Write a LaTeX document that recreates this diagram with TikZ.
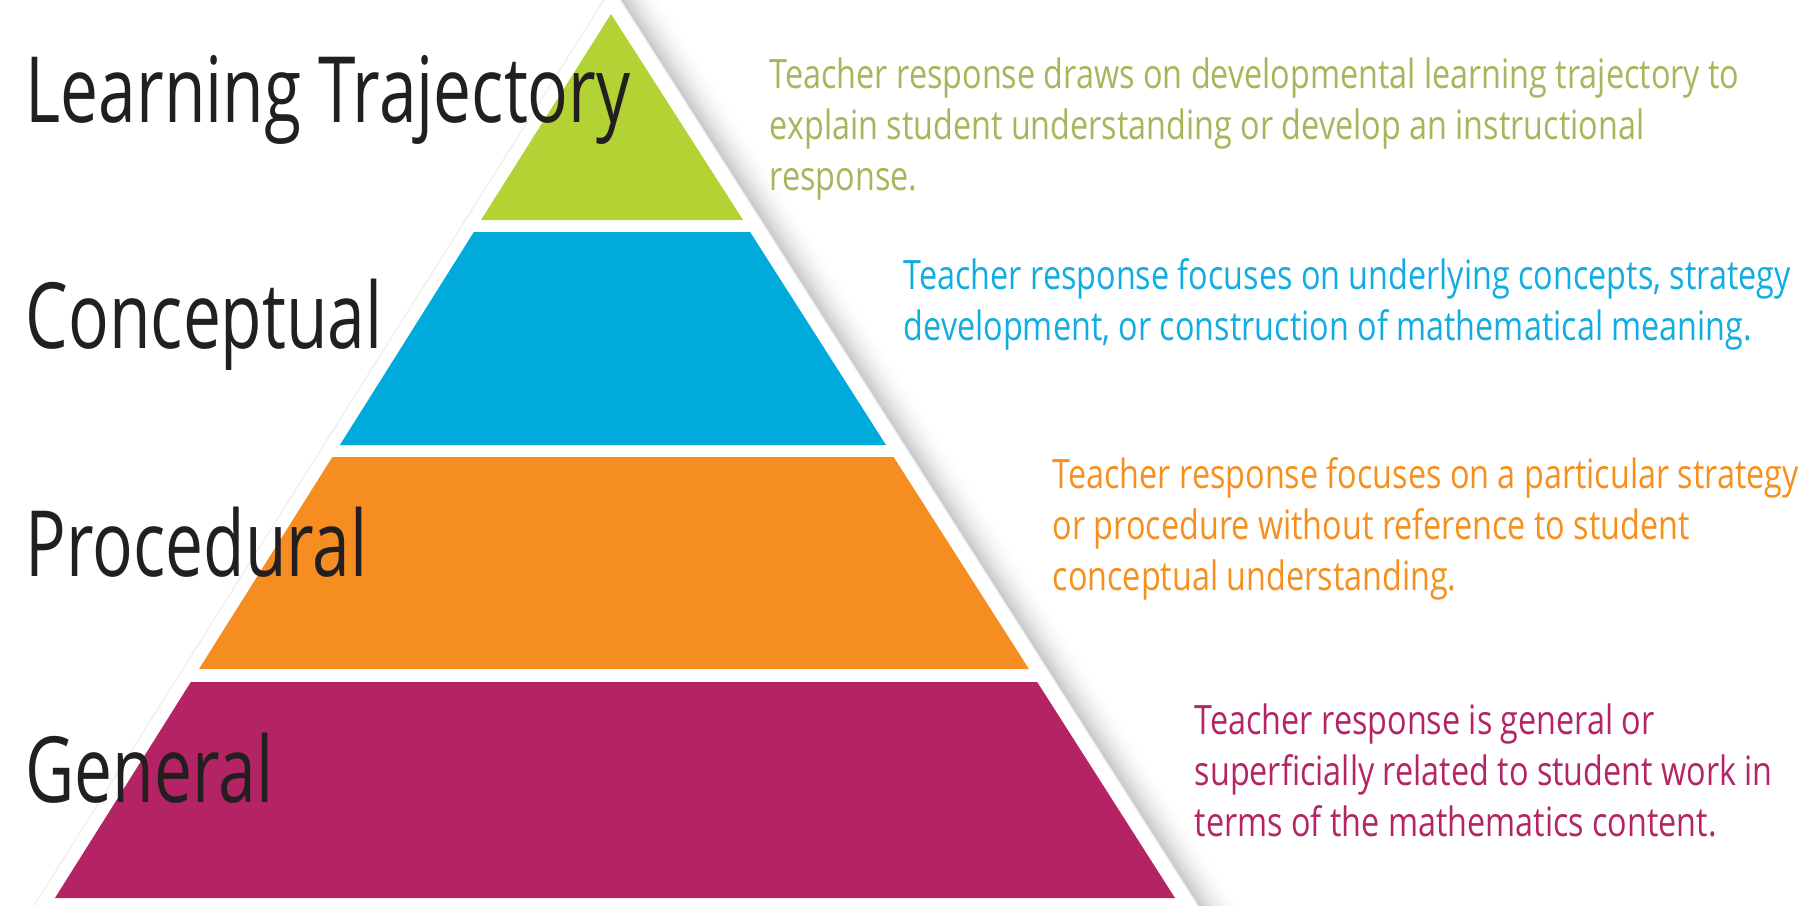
\documentclass[tikz,border=0pt]{standalone}
\usepackage{fontspec}
\newfontfamily\tierfont[FakeStretch=0.74]{Open Sans}
\newfontfamily\descfont[FakeStretch=0.80]{Open Sans}
\definecolor{labelblack}{HTML}{231F20}
\definecolor{limefill}{HTML}{B3D334}
\definecolor{limetext}{HTML}{A6B65A}
\definecolor{skyfill}{HTML}{00ABDC}
\definecolor{skytext}{HTML}{12ADE0}
\definecolor{orangefill}{HTML}{F68D21}
\definecolor{orangetext}{HTML}{F5901F}
\definecolor{berryfill}{HTML}{B42364}
\definecolor{berrytext}{HTML}{B42566}
\tikzset{
  tier/.style={anchor=base west, inner sep=0pt, text=labelblack,
    font=\tierfont\fontsize{26}{30}\selectfont},
  desc/.style={anchor=base west, inner sep=0pt, align=left,
    font=\descfont\fontsize{11.5}{14.5}\selectfont}
}

\begin{document}
\begin{tikzpicture}[x=0.01cm,y=-0.01cm]
\useasboundingbox (0,0) rectangle (1818,905);
\clip (0,0) rectangle (1818,905);
\fill[white] (0,0) rectangle (1818,905);
% soft shadow on the right of the pyramid
\foreach \s [evaluate=\s as \g using {24*(1-\s/44)^2}] in {42,40,...,2}
  \fill[black!\g, shift={(\s,0)}] (612,-13) -- (25,920) -- (1207,920) -- cycle;
\fill[white, draw=black!6] (612,-13) -- (25,920) -- (1207,920) -- cycle;
\fill[limefill] (611,14) -- (743,220) -- (481,220) -- cycle;
\foreach \t/\b/\c in {232/445/skyfill, 457/669/orangefill, 682/898/berryfill}
  \fill[\c] ({611-0.629*(\t-14)},\t) -- ({611+0.638*(\t-14)},\t)
    -- ({611+0.638*(\b-14)},\b) -- ({611-0.629*(\b-14)},\b) -- cycle;

\node[tier] (lt) at (25,122) {Learning Trajectory};
\node[tier] (conc) at (25,348) {Conceptual};
\node[tier] (proc) at (25,576) {Procedural};
\node[tier] (gen) at (25,802) {General};

% multi-line nodes: base is the last line
\node[desc, text=limetext] (ltdesc) at (769,190) {Teacher response draws on developmental learning trajectory to\\explain student understanding or develop an instructional\\response.};
\node[desc, text=skytext] (concdesc) at (903,340) {Teacher response focuses on underlying concepts, strategy\\development, or construction of mathematical meaning.};
\node[desc, text=orangetext] (procdesc) at (1052,590) {Teacher response focuses on a particular strategy\\or procedure without reference to student\\conceptual understanding.};
\node[desc, text=berrytext] (gendesc) at (1194,836) {Teacher response is general or\\superficially related to student work in\\terms of the mathematics content.};
\end{tikzpicture}
\end{document}
